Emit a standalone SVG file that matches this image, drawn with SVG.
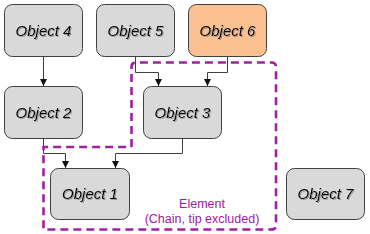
<svg xmlns="http://www.w3.org/2000/svg" width="370" height="234" viewBox="0 0 370 234">
<defs>
<style>
.node rect{fill:#D9D9D9;stroke:#404040;stroke-width:1}
.node text{font-family:"Liberation Sans",Arial,sans-serif;font-style:italic;font-size:15px;fill:#000;text-anchor:middle;filter:url(#sh)}
.orange rect{fill:#FAC090}
.conn{fill:none;stroke:#404040;stroke-width:1;marker-end:url(#arr)}
.elem{fill:none;stroke:#A020A0;stroke-width:2.6;stroke-dasharray:8 5}
.lbl{font-family:"Liberation Sans",Arial,sans-serif;font-size:12.5px;fill:#A0209C;text-anchor:middle}
</style>
<filter id="sh" x="-10%" y="-30%" width="130%" height="160%">
<feDropShadow dx="1" dy="1" stdDeviation="0.6" flood-color="#808080" flood-opacity="0.7"/>
</filter>
<marker id="arr" viewBox="0 0 10 10" refX="10" refY="5" markerWidth="7" markerHeight="7" markerUnits="userSpaceOnUse" orient="auto">
<path d="M0,0 L10,5 L0,10 Z" fill="#111"/>
</marker>
</defs>
<rect width="370" height="234" fill="#fff"/>
<g id="connectors">
<path class="conn" d="M43.5,56 V86"/>
<path class="conn" d="M135.5,56 V72.5 H158.5 V86"/>
<path class="conn" d="M227.5,56 V72.5 H207.5 V86"/>
<path class="conn" d="M43.5,139 V153.5 H65.5 V168"/>
<path class="conn" d="M182.5,139 V153.5 H115.5 V168"/>
</g>
<g id="element">
<path class="elem" d="M131.5,147 V67 Q131.5,62.5 136,62.5 H271.5 Q276,62.5 276,67 V225 Q276,229.5 271.5,229.5 H43.5 V147 H131.5"/>
<text class="lbl" x="202" y="208">Element</text>
<text class="lbl" x="202" y="223">(Chain, tip excluded)</text>
</g>
<g id="object4" class="node"><rect x="4.5" y="4.5" width="78" height="52" rx="8"/><text x="43.5" y="36">Object 4</text></g>
<g id="object5" class="node"><rect x="96.5" y="4.5" width="78" height="52" rx="8"/><text x="135.5" y="36">Object 5</text></g>
<g id="object6" class="node orange"><rect x="188.5" y="4.5" width="78" height="52" rx="8"/><text x="227.5" y="36">Object 6</text></g>
<g id="object2" class="node"><rect x="4.5" y="86.5" width="78" height="52" rx="8"/><text x="43.5" y="118">Object 2</text></g>
<g id="object3" class="node"><rect x="143.5" y="86.5" width="78" height="52" rx="8"/><text x="182.5" y="118">Object 3</text></g>
<g id="object1" class="node"><rect x="50.5" y="168.5" width="79" height="51" rx="8"/><text x="90" y="199">Object 1</text></g>
<g id="object7" class="node"><rect x="286.5" y="168.5" width="78" height="51" rx="8"/><text x="325.5" y="199">Object 7</text></g>
</svg>
